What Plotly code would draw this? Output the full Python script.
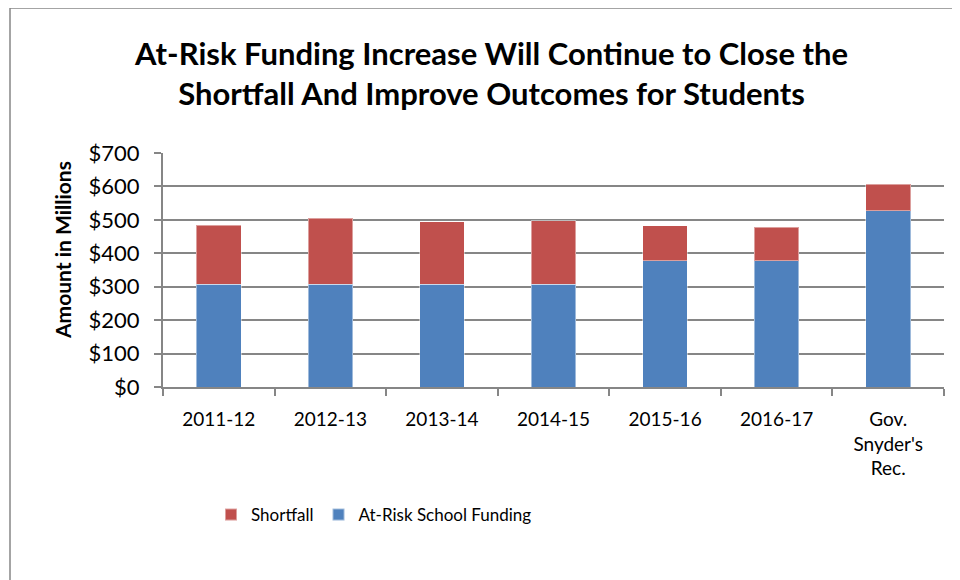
import plotly.graph_objects as go

categories = ["2011-12", "2012-13", "2013-14", "2014-15", "2015-16", "2016-17", "Gov.<br>Snyder's<br>Rec."]
at_risk_funding = [308, 308, 308, 308, 378, 378, 528]
shortfall = [176, 197, 187, 190, 105, 100, 79]
y_ticks = [0, 100, 200, 300, 400, 500, 600, 700]
y_tick_labels = ["$0", "$100", "$200", "$300", "$400", "$500", "$600", "$700"]

FONT = "Lato"
OFF = 8  # page body margin
W, H = 960 - OFF, 580 - OFF
L = 163 - OFF
T = 153 - OFF
R = W - (944 - OFF)
B = H - (387 - OFF)
pw, ph = W - L - R, H - T - B

def px_x(x):
    return (x - OFF - L) / pw

def px_y(y):
    return (H - B - (y - OFF)) / ph

fig = go.Figure()
fig.add_trace(go.Bar(
    x=categories, y=at_risk_funding, name="At-Risk School Funding",
    marker=dict(color="#4F81BD", line=dict(color="rgba(255,255,255,0.45)", width=1)),
))
fig.add_trace(go.Bar(
    x=categories, y=shortfall, name="Shortfall",
    marker=dict(color="#C0504D", line=dict(color="rgba(255,255,255,0.45)", width=1)),
))

fig.update_layout(
    width=W, height=H,
    margin=dict(l=L, r=R, t=T, b=B, autoexpand=False),
    barmode="stack", bargap=0.6,
    plot_bgcolor="white", paper_bgcolor="white",
    font=dict(family=FONT, size=20, color="black"),
    showlegend=True,
    legend=dict(
        orientation="h", traceorder="reversed",
        x=px_x(211), xanchor="left", y=px_y(515), yanchor="middle",
        font=dict(family=FONT, size=17, color="black"),
        itemwidth=30, itemsizing="constant",
        bgcolor="rgba(0,0,0,0)",
    ),
    xaxis=dict(
        type="category",
        showline=True, linecolor="#868686", linewidth=2,
        ticks="outside", tickson="boundaries", ticklen=7, tickcolor="#868686", tickwidth=2,
        tickfont=dict(family=FONT, size=19, color="black"),
        ticklabelstandoff=14,
        showgrid=False,
    ),
    yaxis=dict(
        range=[0, 700], tickvals=y_ticks, ticktext=y_tick_labels,
        showline=True, linecolor="#868686", linewidth=2,
        ticks="outside", ticklen=7, tickcolor="#868686", tickwidth=2,
        showgrid=True, gridcolor="#868686", gridwidth=2,
        tickfont=dict(family=FONT, size=22, color="black"),
        ticklabelstandoff=10,
        zeroline=False,
    ),
    annotations=[
        dict(
            text="<b>At-Risk Funding Increase Will Continue to Close the<br>Shortfall And Improve Outcomes for Students</b>",
            x=px_x(491), y=px_y(73), xref="paper", yref="paper",
            xanchor="center", yanchor="middle", showarrow=False,
            font=dict(family=FONT, size=31, color="black"),
        ),
        dict(
            text="<b>Amount in Millions</b>", textangle=-90,
            x=px_x(62), y=px_y(250), xref="paper", yref="paper",
            xanchor="center", yanchor="middle", showarrow=False,
            font=dict(family=FONT, size=21, color="black"),
        ),
    ],
    shapes=[dict(
        type="rect", xref="paper", yref="paper",
        x0=px_x(10), x1=px_x(1000), y0=px_y(8), y1=px_y(620),
        line=dict(color="#868686", width=1.5), fillcolor="rgba(0,0,0,0)",
        layer="below",
    )],
)

fig.write_html("out.html")
